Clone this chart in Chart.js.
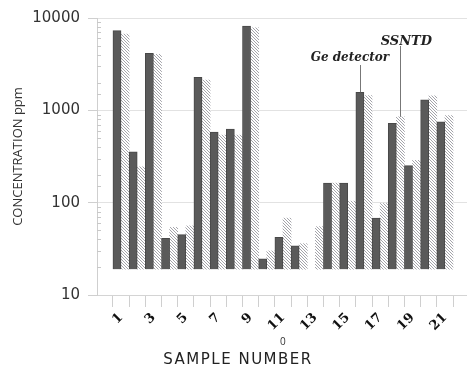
<!DOCTYPE html>
<html>
<head>
<meta charset="utf-8">
<script src="https://cdn.jsdelivr.net/npm/chart.js@4.4.0/dist/chart.umd.min.js"></script>
<style>
  html, body { margin: 0; padding: 0; background: #fff; }
</style>
</head>
<body>
<canvas id="my-chart" width="467" height="367"></canvas>
<script>
// sample numbers on the x axis
const samples = [1, 2, 3, 4, 5, 6, 7, 8, 9, 10, 11, 12, 13, 14, 15, 16, 17, 18, 19, 20, 21];
const sampleLabels = ["1", "", "3", "", "5", "", "7", "", "9", "", "11", "", "13", "", "15", "", "17", "", "19", "", "21"];

// concentration in ppm
const geDetector = [7300, 355, 4150, 41, 45, 2280, 580, 625, 8200, 24.7, 42, 34, null, 163, 163, 1570, 68, 725, 252, 1300, 750];
const ssntd = [6700, 245, 4050, 54, 56, 2130, 540, 540, 7850, 30, 68, 36, 55, 163, 104, 1445, 98, 850, 288, 1440, 875];

const yMajor = [10, 100, 1000, 10000];
const barBase = 19;

function hatch() {
  const c = document.createElement("canvas");
  c.width = 3;
  c.height = 3;
  const g = c.getContext("2d");
  g.fillStyle = "#fff";
  g.fillRect(0, 0, 3, 3);
  g.strokeStyle = "#a4a4aa";
  g.lineWidth = 1;
  g.beginPath();
  g.moveTo(0, 0); g.lineTo(3, 3);
  g.moveTo(-3, 0); g.lineTo(0, 3);
  g.moveTo(3, 0); g.lineTo(6, 3);
  g.stroke();
  return g.createPattern(c, "repeat");
}

// minor ticks inside the y axis, the labels, the x title and the stray "0"
const extras = {
  id: "extras",
  afterDraw(chart) {
    const ctx = chart.ctx;
    const y = chart.scales.y;
    const x = chart.scales.x;
    const left = chart.chartArea.left;
    ctx.save();
    ctx.strokeStyle = "#c8c8c8";
    ctx.lineWidth = 1;
    y.ticks.forEach((t) => {
      if (yMajor.includes(t.value)) return;
      const py = Math.round(y.getPixelForValue(t.value)) + 0.5;
      ctx.beginPath();
      ctx.moveTo(left, py);
      ctx.lineTo(left + 4, py);
      ctx.stroke();
    });

    const ge = chart.getDatasetMeta(0).data[15];
    const ss = chart.getDatasetMeta(1).data[17];
    ctx.strokeStyle = "#777";
    ctx.beginPath();
    ctx.moveTo(Math.round(ge.x) + 0.5, 65);
    ctx.lineTo(Math.round(ge.x) + 0.5, ge.y);
    ctx.moveTo(Math.round(ss.x) + 0.5, 46);
    ctx.lineTo(Math.round(ss.x) + 0.5, ss.y);
    ctx.stroke();

    ctx.fillStyle = "#222";
    ctx.font = "italic bold 12px 'DejaVu Serif'";
    ctx.textAlign = "center";
    ctx.textBaseline = "middle";
    ctx.fillText("Ge detector", ge.x - 10, 58);
    ctx.font = "italic bold 13px 'DejaVu Serif'";
    ctx.fillText("SSNTD", ss.x + 6, 42);

    ctx.font = "10px 'Open Sans'";
    ctx.fillStyle = "#333";
    ctx.fillText("0", x.getPixelForValue(11), 342);

    ctx.font = "15px 'DejaVu Sans'";
    ctx.letterSpacing = "1.5px";
    ctx.fillStyle = "#222";
    ctx.fillText("SAMPLE NUMBER", 238, 360);
    ctx.restore();
  }
};

const ctx = document.getElementById("my-chart").getContext("2d");
const chart = new Chart(ctx, {
  type: "bar",
  data: {
    datasets: [
      {
        label: "Ge detector",
        data: samples.map((s, i) => ({ x: s, y: geDetector[i] })),
        backgroundColor: "#5a5a5a",
        borderColor: "#484848",
        borderWidth: 1,
        base: barBase,
        barPercentage: 1,
        categoryPercentage: 1
      },
      {
        label: "SSNTD",
        data: samples.map((s, i) => ({ x: s, y: ssntd[i] })),
        backgroundColor: hatch(),
        borderWidth: 0,
        base: barBase,
        barPercentage: 1,
        categoryPercentage: 1
      }
    ]
  },
  options: {
    responsive: false,
    animation: false,
    layout: { padding: { top: 18, right: 0, left: 0, bottom: 0 } },
    plugins: { legend: { display: false }, tooltip: { enabled: false } },
    scales: {
      x: {
        type: "linear",
        min: 0.06,
        max: 21.82,
        afterBuildTicks: (s) => { s.ticks = samples.map((v) => ({ value: v })); },
        afterFit: (s) => { s.height = 72; s.paddingLeft = 0; s.paddingRight = 0; },
        grid: { drawOnChartArea: false, color: "#cfcfcf", tickLength: 12 },
        border: { color: "#d4d4d4" },
        ticks: {
          autoSkip: false,
          minRotation: 45,
          maxRotation: 45,
          padding: 3,
          color: "#111",
          font: { family: "DejaVu Serif", weight: "bold", size: 13 },
          callback: (v, i) => sampleLabels[i]
        }
      },
      y: {
        type: "logarithmic",
        min: 10,
        max: 10000,
        afterFit: (s) => { s.width = 97; s.paddingTop = 0; s.paddingBottom = 0; },
        grid: {
          color: (c) => (c.tick && yMajor.includes(c.tick.value) ? "#e2e2e2" : "rgba(0,0,0,0)"),
          tickColor: (c) => (c.tick && yMajor.includes(c.tick.value) ? "#cfcfcf" : "rgba(0,0,0,0)"),
          tickLength: 9
        },
        border: { color: "#cfcfcf" },
        ticks: {
          autoSkip: false,
          padding: 8,
          color: "#333",
          font: { family: "DejaVu Sans", size: 15 },
          callback: (v) => (yMajor.includes(v) ? String(v) : "")
        },
        title: {
          display: true,
          text: "CONCENTRATION ppm",
          color: "#333",
          font: { family: "Open Sans", size: 13 },
          padding: { top: 10, bottom: 0 }
        }
      }
    }
  },
  plugins: [extras]
});
</script>
</body>
</html>
